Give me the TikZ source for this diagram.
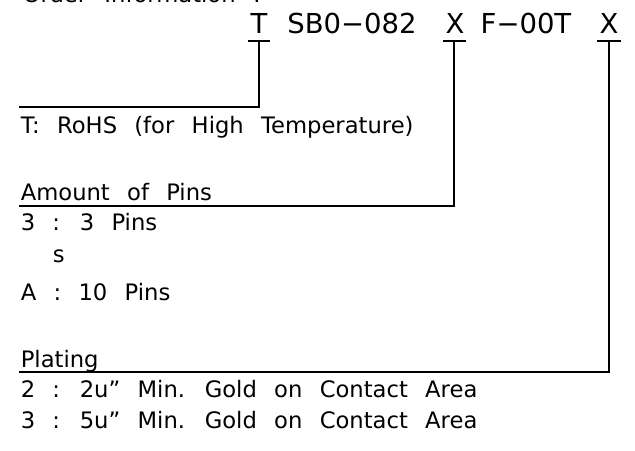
\documentclass[tikz,border=0pt]{standalone}
\usepackage{fontspec}
\setmainfont[WordSpace=2.4]{DejaVu Sans}

\tikzset{every picture/.style={line width=1.2pt}}
\tikzset{
  codetext/.style={inner sep=0pt, font=\fontsize{20.6pt}{24pt}\selectfont},
  bodytext/.style={anchor=base west, inner sep=0pt, font=\fontsize{17pt}{20pt}\selectfont},
}

\begin{document}
\begin{tikzpicture}[x=0.75pt,y=0.75pt,yscale=-1,xscale=1]
\useasboundingbox (0,0) rectangle (635,450);

% Text Node
\draw (22,2) node (title) [bodytext] {Order Information :};

% Text Node
\draw (259,33) node (codeT) [codetext, anchor=base] {T};
% Text Node
\draw (352,33) node (codeS) [codetext, anchor=base] {SB0−082};
% Text Node
\draw (455,33) node (codeX) [codetext, anchor=base] {X};
% Text Node
\draw (526,33) node (codeF) [codetext, anchor=base] {F−00T};
% Text Node
\draw (609,33) node (codeP) [codetext, anchor=base] {X};

% Text Node
\draw (20,133) node (rohs) [bodytext] {T: RoHS (for High Temperature)};
% Text Node
\draw (20,200) node (pins) [bodytext] {Amount of Pins};
% Text Node
\draw (20,230) node (pinsA) [bodytext] {3 : 3 Pins};
% Text Node
\draw (52,262) node (pinsB) [bodytext] {s};
% Text Node
\draw (20,300) node (pinsC) [bodytext] {A : 10 Pins};
% Text Node
\draw (20,367) node (plating) [bodytext] {Plating};
% Text Node
\draw (20,397) node (platA) [bodytext] {2 : 2u” Min. Gold on Contact Area};
% Text Node
\draw (20,428) node (platB) [bodytext] {3 : 5u” Min. Gold on Contact Area};

% Leader ends
\coordinate (tickT) at (259,41);
\coordinate (tickX) at (454,41);
\coordinate (tickP) at (609,41);
\coordinate (endT) at (19,107);
\coordinate (endX) at (19,206);
\coordinate (endP) at (19,372);

%Straight Lines
\draw ([xshift=-11*0.75pt]tickT) -- ([xshift=11*0.75pt]tickT) ;
\draw ([xshift=-11*0.75pt]tickX) -- ([xshift=12*0.75pt]tickX) ;
\draw ([xshift=-12*0.75pt]tickP) -- ([xshift=12*0.75pt]tickP) ;

%Leaders
\draw (tickT) |- (endT) ;
\draw (tickX) |- (endX) ;
\draw (tickP) |- (endP) ;

\end{tikzpicture}
\end{document}
